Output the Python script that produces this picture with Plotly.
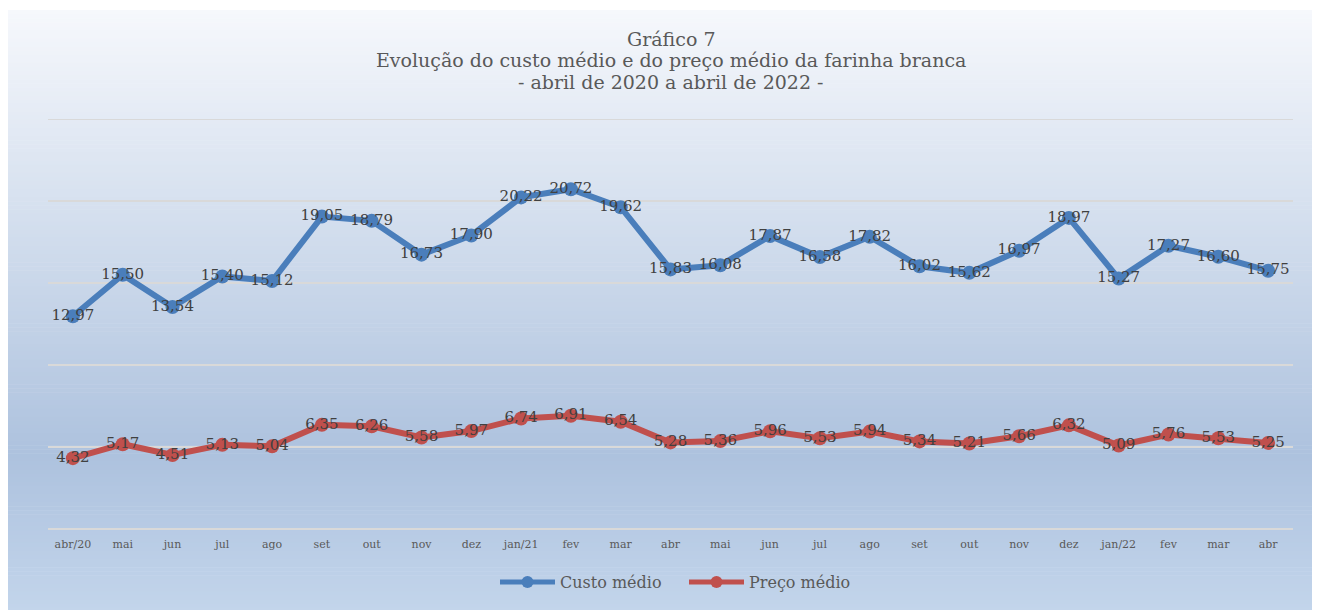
import plotly.graph_objects as go

# dados
meses = ["abr/20", "mai", "jun", "jul", "ago", "set", "out", "nov", "dez",
         "jan/21", "fev", "mar", "abr", "mai", "jun", "jul", "ago", "set",
         "out", "nov", "dez", "jan/22", "fev", "mar", "abr"]
custo_medio = [12.97, 15.50, 13.54, 15.40, 15.12, 19.05, 18.79, 16.73, 17.90,
               20.22, 20.72, 19.62, 15.83, 16.08, 17.87, 16.58, 17.82, 16.02,
               15.62, 16.97, 18.97, 15.27, 17.27, 16.60, 15.75]
preco_medio = [4.32, 5.17, 4.51, 5.13, 5.04, 6.35, 6.26, 5.58, 5.97,
               6.74, 6.91, 6.54, 5.28, 5.36, 5.96, 5.53, 5.94, 5.34,
               5.21, 5.66, 6.32, 5.09, 5.76, 5.53, 5.25]
titulo = ["Gráfico 7",
          "Evolução do custo médio e do preço médio da farinha branca",
          "- abril de 2020 a abril de 2022 -"]
series = ["Custo médio", "Preço médio"]
cores = ["#4a7ebb", "#c0504d"]

x = list(range(len(meses)))
FONT = "DejaVu Serif"

fig = go.Figure()
for nome, vals, c in zip(series, [custo_medio, preco_medio], cores):
    fig.add_trace(go.Scatter(
        x=x, y=vals, name=nome, mode="lines+markers+text",
        line=dict(color=c, width=6), marker=dict(size=14, color=c),
        texttemplate="%{y:.2f}", textposition="middle center",
        textfont=dict(family=FONT, size=15, color="#404040"), hoverinfo="skip"))

# a página tem margem de 8px no body: posições abaixo já descontadas
W, H = 1320, 610
L, T = 40, 111          # canto superior esquerdo da área de plotagem
pw, ph = 1245, 410
R, B = W - L - pw, H - T - ph


def px_y(py):
    return (T + ph - py) / ph


def px_x(px):
    return (px - L) / pw


# fundo em degradê (faixas finas)
stops = [(0.0, (246, 248, 252)), (0.73, (173, 194, 222)), (1.0, (196, 214, 236))]


def cor(f):
    for (f0, c0), (f1, c1) in zip(stops[:-1], stops[1:]):
        if f <= f1:
            t = (f - f0) / (f1 - f0)
            return "rgb(%d,%d,%d)" % tuple(round(a + (b - a) * t) for a, b in zip(c0, c1))
    return "rgb(%d,%d,%d)" % stops[-1][1]


shapes = []
n = 150
y_top, y_bot = 2, 612
for i in range(n):
    p0 = y_top + (y_bot - y_top) * i / n
    p1 = y_top + (y_bot - y_top) * (i + 1) / n + 0.6
    shapes.append(dict(
        type="rect", xref="paper", yref="paper", layer="below",
        x0=px_x(-2), x1=px_x(W + 2), y0=px_y(p1), y1=px_y(p0),
        fillcolor=cor((i + 0.5) / n), line=dict(width=0)))

# linha de grade do topo (o plotly omite a da borda)
shapes.append(dict(type="line", xref="paper", yref="y", x0=0, x1=1, y0=25, y1=25,
                   layer="below", line=dict(color="#d9d9d9", width=2)))

annotations = []
for linha, cy in zip(titulo, [31, 52, 74]):
    annotations.append(dict(
        text=linha, xref="paper", yref="paper", x=0.5, y=px_y(cy),
        xanchor="center", yanchor="middle", showarrow=False,
        font=dict(family=FONT, size=19, color="#595959")))

# legenda desenhada à mão (amostra de linha mais longa, como no original)
leg_y = px_y(574)
for nome, c, x0 in zip(series, cores, [492, 681]):
    shapes.append(dict(type="line", xref="paper", yref="paper",
                       x0=px_x(x0), x1=px_x(x0 + 55), y0=leg_y, y1=leg_y,
                       line=dict(color=c, width=5)))
    shapes.append(dict(type="circle", xref="paper", yref="paper",
                       xsizemode="pixel", ysizemode="pixel",
                       xanchor=px_x(x0 + 27.5), yanchor=leg_y,
                       x0=-6, x1=6, y0=-6, y1=6,
                       fillcolor=c, line=dict(width=0)))
    annotations.append(dict(
        text=nome, xref="paper", yref="paper", x=px_x(x0 + 58), y=leg_y,
        xanchor="left", yanchor="middle", showarrow=False,
        font=dict(family=FONT, size=16, color="#595959")))

fig.update_layout(
    width=W, height=H, separators=",.",
    margin=dict(l=L, r=R, t=T, b=B),
    paper_bgcolor="white", plot_bgcolor="rgba(0,0,0,0)",
    shapes=shapes, annotations=annotations, showlegend=False,
    xaxis=dict(range=[-0.5, len(meses) - 0.5], tickvals=x, ticktext=meses,
               showgrid=False, zeroline=False, showline=False, ticks="",
               ticklabelstandoff=7,
               tickfont=dict(family=FONT, size=11, color="#595959")),
    yaxis=dict(range=[0, 25], tickvals=[0, 5, 10, 15, 20, 25],
               showticklabels=False, showgrid=True,
               gridcolor="#d9d9d9", gridwidth=2, zeroline=True,
               zerolinecolor="#d9d9d9", zerolinewidth=2, showline=False, ticks=""),
)

fig.write_html("out.html")
